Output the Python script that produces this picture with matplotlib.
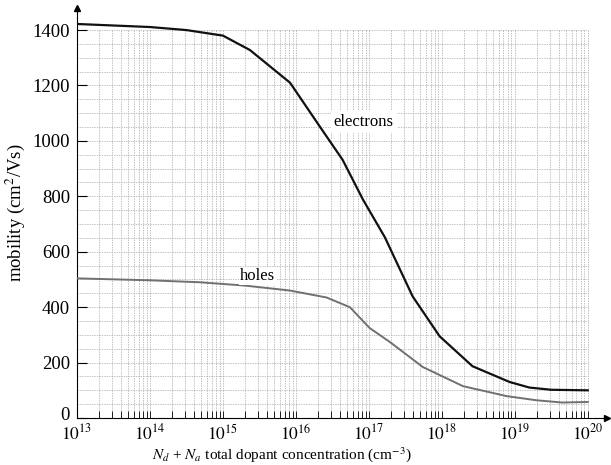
import matplotlib
matplotlib.use('Agg')
import matplotlib.pyplot as plt
import matplotlib.transforms as mtrans
import numpy as np

# log10 of dopant concentration (cm^-3) and mobility
electron_logn = [13.0, 14.0, 14.5, 15.0, 15.37, 15.92, 16.33, 16.64, 16.92, 17.22,
                 17.6, 17.97, 18.42, 18.93, 19.2, 19.5, 20.0]
electron_mu = [1422, 1411, 1400, 1380, 1328, 1210, 1051, 932, 788, 652,
               439, 295, 187, 130, 110, 102, 100]

hole_logn = [13.0, 14.0, 14.68, 15.3, 15.92, 16.42, 16.74, 17.01, 17.29, 17.74,
             18.29, 18.89, 19.3, 19.65, 20.0]
hole_mu = [504, 497, 490, 478, 460, 435, 400, 325, 274, 184,
           115, 79, 64, 56, 58]

x_decades = np.arange(13, 21)
y_major = np.arange(0, 1401, 200)
y_grid = np.arange(0, 1401, 50)

plt.rcParams['font.family'] = 'Liberation Serif'
plt.rcParams['mathtext.fontset'] = 'stix'

fig = plt.figure(figsize=(6.11, 4.65), dpi=100)
ax = fig.add_axes([0.126, 0.101, 0.867, 0.882])

xmax = 10 ** 20.26
ymax = 1480
ax.set_xscale('log')
ax.set_xlim(1e13, xmax)
ax.set_ylim(0, ymax)

# dashed grid, stopping at 1e20 / 1400
xg = []
for d in x_decades:
    for m in range(1, 10):
        v = m * 10.0 ** d
        if v <= 1e20 * 1.0001:
            xg.append(v)
ax.vlines(xg, 0, 1400, colors='#a8a8a8', linestyles=(0, (2, 1.5)), lw=0.5, zorder=1)
ax.hlines(y_grid, 1e13, 1e20, colors='#a8a8a8', linestyles=(0, (2, 1.5)), lw=0.5, zorder=1)

ax.plot(10.0 ** np.array(electron_logn), electron_mu, color='#111111', lw=1.6, zorder=3)
ax.plot(10.0 ** np.array(hole_logn), hole_mu, color='#707070', lw=1.4, zorder=3)

ax.text(10 ** 16.93, 1068, 'electrons', fontsize=12, ha='center', va='center',
        bbox=dict(facecolor='white', edgecolor='none', pad=2), zorder=4)
ax.text(10 ** 15.48, 512, 'holes', fontsize=12, ha='center', va='center',
        bbox=dict(facecolor='white', edgecolor='none', pad=1), zorder=4)

for s in ['top', 'right']:
    ax.spines[s].set_visible(False)
ax.spines['left'].set_linewidth(0.8)
ax.spines['bottom'].set_linewidth(0.8)

# arrow heads
ax.plot(0, 1, '^k', ms=5, transform=ax.transAxes, clip_on=False)
ax.plot(1, 0, '>k', ms=5, transform=ax.transAxes, clip_on=False)

ax.set_xticks(10.0 ** x_decades)
ax.set_xticklabels(['$10^{%d}$' % d for d in x_decades], fontsize=12.5)
ax.set_xticks([v for v in xg if v not in 10.0 ** x_decades], minor=True)
ax.set_yticks(y_major)
ax.set_yticklabels([str(v) for v in y_major], fontsize=13.5)
ax.tick_params(axis='x', which='both', direction='in', length=5, width=0.6, pad=4)
ax.tick_params(axis='y', which='major', direction='in', length=7, width=0.8, pad=5)

# lift the "0" a little so it clears the 10^13 label
lab0 = ax.get_yticklabels()[0]
lab0.set_transform(lab0.get_transform() + mtrans.ScaledTranslation(0, 5 / 100, fig.dpi_scale_trans))

ax.set_ylabel('mobility (cm$^2$/Vs)', fontsize=13.5, labelpad=4)
fig.text(282 / 611, 1 / 465, '$N_d$ + $N_a$ total dopant concentration (cm$^{-3}$)',
         fontsize=11, ha='center', va='bottom')

plt.savefig('out.png', dpi=100)
